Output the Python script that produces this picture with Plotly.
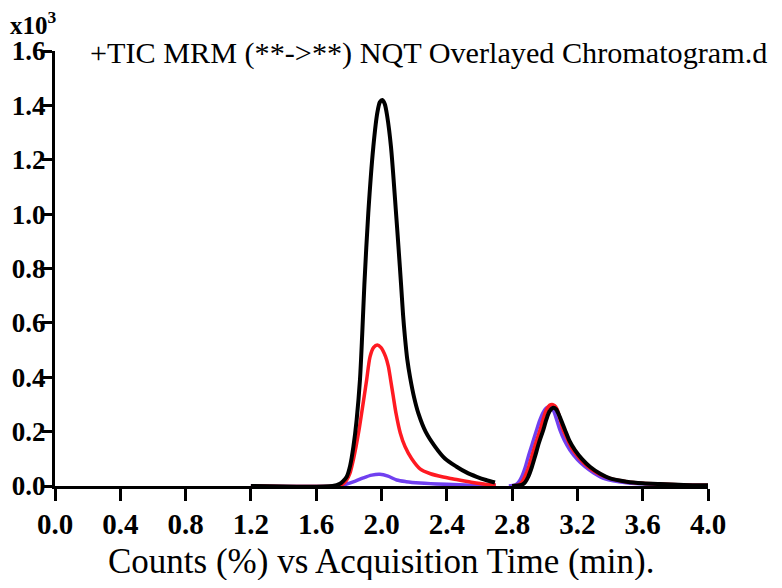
import plotly.graph_objects as go

# Time (min) and counts (x10^3)
black_x = [1.20, 1.70, 1.745, 1.765, 1.787, 1.808, 1.828, 1.848, 1.868, 1.882, 1.895, 1.919, 1.950, 1.975, 1.990, 2.005, 2.020, 2.035, 2.058, 2.089,
           2.105, 2.120, 2.132, 2.144, 2.158, 2.175, 2.200, 2.226, 2.270, 2.328, 2.390, 2.460, 2.520, 2.583, 2.640, 2.695,
           None,
           2.80, 2.859, 2.880, 2.899, 2.920, 2.940, 2.965, 2.991, 3.010, 3.030, 3.052, 3.070, 3.090, 3.124, 3.150, 3.185, 3.230, 3.277, 3.340, 3.400, 3.502, 3.600, 3.706, 3.850, 4.00]
black_y = [0.0, 0.0, 0.008, 0.018, 0.034, 0.075, 0.145, 0.245, 0.39, 0.56, 0.74, 1.004, 1.248, 1.375, 1.412, 1.42, 1.405, 1.36, 1.248, 1.004,
           0.87, 0.74, 0.63, 0.545, 0.465, 0.40, 0.325, 0.267, 0.20, 0.145, 0.10, 0.071, 0.050, 0.034, 0.022, 0.013,
           None,
           0.0, 0.004, 0.014, 0.034, 0.068, 0.108, 0.160, 0.206, 0.245, 0.275, 0.288, 0.282, 0.257, 0.206, 0.168, 0.132, 0.098, 0.071, 0.045, 0.028, 0.016, 0.010, 0.007, 0.004, 0.003]

red_x = [1.20, 1.72, 1.76, 1.785, 1.807, 1.825, 1.844, 1.862, 1.878, 1.894, 1.909, 1.930, 1.952, 1.974, 1.996, 2.025, 2.042, 2.056, 2.072, 2.089, 2.115, 2.144, 2.185,
         2.236, 2.30, 2.378, 2.440, 2.550, 2.645, 2.700,
         None,
         2.80, 2.84, 2.860, 2.878, 2.900, 2.920, 2.945, 2.971, 2.990, 3.010, 3.030, 3.045, 3.060, 3.075, 3.090, 3.110, 3.140, 3.170, 3.215, 3.260, 3.320, 3.390, 3.500, 3.600, 3.700, 3.850, 4.00]
red_y = [0.0, 0.0, 0.006, 0.020, 0.047, 0.090, 0.145, 0.205, 0.267, 0.330, 0.39, 0.476, 0.510, 0.519, 0.510, 0.476, 0.44, 0.39, 0.33, 0.267, 0.195, 0.145, 0.10,
         0.063, 0.045, 0.033, 0.026, 0.014, 0.006, 0.004,
         None,
         0.0, 0.004, 0.014, 0.034, 0.068, 0.108, 0.158, 0.206, 0.245, 0.280, 0.297, 0.300, 0.296, 0.283, 0.255, 0.210, 0.170, 0.135, 0.100, 0.073, 0.048, 0.030, 0.016, 0.010, 0.007, 0.004, 0.003]

purple_x = [1.20, 1.74, 1.78, 1.84, 1.889, 1.94, 1.99, 2.04, 2.093, 2.15, 2.236, 2.40, 2.55, 2.70,
            None,
            2.78, 2.82, 2.840, 2.859, 2.880, 2.899, 2.925, 2.950, 2.970, 2.990, 3.010, 3.032, 3.048, 3.060, 3.075, 3.093, 3.120, 3.154, 3.200, 3.247, 3.300, 3.370, 3.500, 3.600, 3.700, 3.850, 4.00]
purple_y = [0.0, 0.0, 0.006, 0.018, 0.030, 0.040, 0.043, 0.036, 0.022, 0.016, 0.011, 0.006, 0.003, 0.002,
            None,
            0.0, 0.004, 0.014, 0.034, 0.068, 0.108, 0.158, 0.206, 0.242, 0.270, 0.287, 0.290, 0.284, 0.268, 0.240, 0.206, 0.168, 0.132, 0.097, 0.071, 0.048, 0.026, 0.012, 0.008, 0.005, 0.003, 0.002]

x_ticks = [0.0, 0.4, 0.8, 1.2, 1.6, 2.0, 2.4, 2.8, 3.2, 3.6, 4.0]
y_ticks = [0.0, 0.2, 0.4, 0.6, 0.8, 1.0, 1.2, 1.4, 1.6]

title_text = "+TIC MRM (**->**) NQT Overlayed Chromatogram.d"
x_title = "Counts (%) vs Acquisition Time (min)."
scale_text = "x10<sup>3</sup>"

FONT = "Liberation Serif, Times New Roman, serif"

fig = go.Figure()
fig.add_trace(go.Scatter(x=purple_x, y=purple_y, mode="lines",
                         line=dict(color="#7040f0", width=3.5, shape="spline", smoothing=0.8)))
fig.add_trace(go.Scatter(x=red_x, y=red_y, mode="lines",
                         line=dict(color="#ff1a22", width=3.5, shape="spline", smoothing=0.8)))
fig.add_trace(go.Scatter(x=black_x, y=black_y, mode="lines",
                         line=dict(color="#000000", width=4, shape="spline", smoothing=0.8)))

# page has an 8px body margin: figure 766x572 placed at (8, 8) so nothing scrolls
fig.update_layout(
    width=766, height=572,
    margin=dict(l=47, r=66, t=43, b=94),
    paper_bgcolor="white", plot_bgcolor="white",
    showlegend=False,
    font=dict(family=FONT, color="black"),
)
fig.update_xaxes(
    range=[0, 4.0], tickvals=x_ticks, ticktext=[f"<b>{v:.1f}</b>" for v in x_ticks],
    showline=True, linecolor="black", linewidth=3,
    ticks="outside", ticklen=12, tickwidth=3, tickcolor="black",
    showgrid=False, zeroline=False, automargin=False, ticklabelstandoff=-2,
    tickfont=dict(family=FONT, size=29, color="black"),
)
fig.update_yaxes(
    range=[0, 1.6], tickvals=y_ticks, ticktext=[f"<b>{v:.1f}</b>" for v in y_ticks],
    showline=True, linecolor="black", linewidth=3,
    ticks="outside", ticklen=10, tickwidth=3, tickcolor="black",
    showgrid=False, zeroline=False, automargin=False, ticklabelstandoff=-9,
    tickfont=dict(family=FONT, size=27, color="black"),
)

fig.add_annotation(text=title_text, xref="paper", yref="paper",
                   x=(88 - 55) / 653, y=(486 - 53) / 435, xanchor="left", yanchor="middle",
                   showarrow=False, font=dict(family=FONT, size=30.2, color="black"))
fig.add_annotation(text=x_title, xref="paper", yref="paper",
                   x=(381 - 55) / 653, y=(486 - 561) / 435, xanchor="center", yanchor="middle",
                   showarrow=False, font=dict(family=FONT, size=35, color="black"))
fig.add_annotation(text="<b>" + scale_text + "</b>", xref="paper", yref="paper",
                   x=(8 - 55) / 653, y=(486 - 23) / 435, xanchor="left", yanchor="middle",
                   showarrow=False, font=dict(family=FONT, size=25, color="black"))

fig.write_html("out.html")
